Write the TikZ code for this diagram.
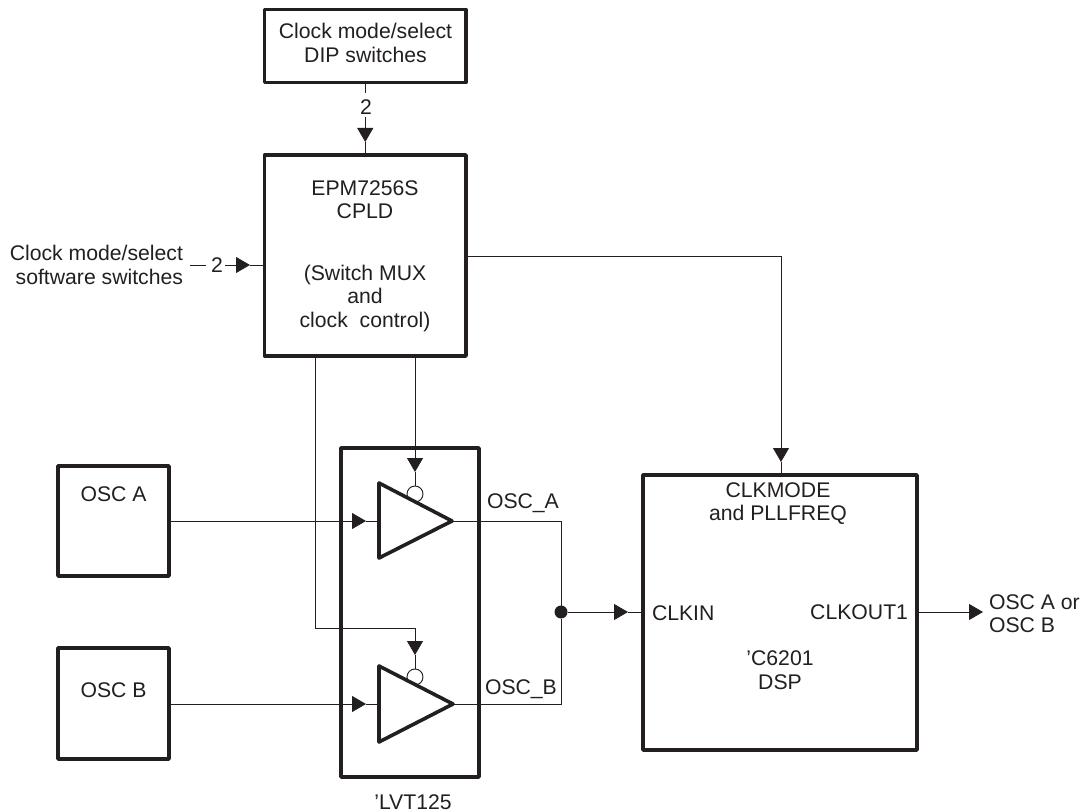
\documentclass[tikz,border=0pt]{standalone}
\usepackage{fontspec}
\setmainfont{Liberation Sans}
\usetikzlibrary{arrows.meta}
\definecolor{ink}{HTML}{231F20}
\tikzset{
  x=0.75pt,y=-0.75pt,
  boxsize/.style 2 args={minimum width=#1*0.75pt,minimum height=#2*0.75pt},
  block/.style={draw=ink,line width=2.7pt,line join=round,fill=white,inner sep=0pt,outer sep=0pt},
  wire/.style={draw=ink,line width=0.6pt},
  arrowed/.style={wire,-{Triangle[length=10.5pt,width=12pt]}},
  amp/.style={draw=ink,line width=2.7pt,line join=round,fill=white},
  bubble/.style={circle,draw=ink,line width=0.7pt,fill=white,minimum size=16*0.75pt,inner sep=0pt,outer sep=0pt},
  dot/.style={circle,fill=ink,minimum size=13*0.75pt,inner sep=0pt,outer sep=0pt},
  txt/.style={font=\fontsize{15.9pt}{17.6pt}\selectfont,text=ink,inner sep=0pt,outer sep=0pt,align=center},
  txtl/.style={txt,align=left},
  txtr/.style={txt,align=right}
}
\begin{document}
\begin{tikzpicture}
\useasboundingbox (0,0) rectangle (1087,812);
% blocks
\node[block,boxsize={201.5}{73}] (dip) at (365.25,46) {};
\node[block,boxsize={201.5}{201}] (cpld) at (365.25,255.5) {};
\node[block,boxsize={138}{329}] (lvt) at (410,612.5) {};
\node[block,boxsize={111}{110}] (osca) at (113.5,521) {};
\node[block,boxsize={111}{111}] (oscb) at (113.5,703.5) {};
\node[block,boxsize={274}{275}] (dsp) at (780,612.5) {};
% texts
\node[txt] (tdip) at (365.5,43) {Clock mode/select\\DIP switches};
\node[txt] (t2a) at (366,107) {2};
\node[txt] (t2b) at (217,265.5) {2};
\node[txt] (tepm) at (365,199.5) {EPM7256S\\CPLD};
\node[txt] (tmux) at (365,298.5) {(Switch MUX\\and\\clock\ \ control)};
\node[txtr,anchor=east] (tsoft) at (183,265) {Clock mode/select\\software switches};
\node[txt] (tosca) at (113.5,494) {OSC A};
\node[txt] (toscb) at (113.5,690) {OSC B};
\node[txtl,anchor=base west] (lbla) at (487,508) {OSC\_A};
\node[txtl,anchor=base west] (lblb) at (485,694) {OSC\_B};
\node[txt] (tlvt) at (413,802) {’LVT125};
\node[txt] (tclkm) at (778,503.5) {CLKMODE\\and PLLFREQ};
\node[txtl,anchor=west] (tclkin) at (652,613) {CLKIN};
\node[txtr,anchor=east] (tclkout) at (908,612) {CLKOUT1};
\node[txt] (tc62) at (780,670) {’C6201\\DSP};
\node[txtl,anchor=west] (tout) at (989,613.5) {OSC A or\\OSC B};
% coordinates
\coordinate (a1) at (379,483); \coordinate (a2) at (452,521); \coordinate (a3) at (379,558);
\coordinate (b1) at (379,666); \coordinate (b2) at (453,704); \coordinate (b3) at (379,742);
\coordinate (ain) at (379,521); \coordinate (bin) at (379,704);
\coordinate (atip) at (366,521); \coordinate (btip) at (366,704);
\coordinate (oa) at (169,521); \coordinate (ob) at (169,704);
\node[bubble] (ba) at (415,494) {};
\node[bubble] (bb) at (415,677) {};
\node[dot] (junc) at (561,612) {};
% amplifiers
\draw[amp] (a1) -- (a2) -- (a3) -- cycle;
\draw[amp] (b1) -- (b2) -- (b3) -- cycle;
% DIP to CPLD
\coordinate (d1) at (365.25,93); \coordinate (d2) at (365.25,117); \coordinate (d3) at (365.25,142);
\draw[wire] (dip.south) -- (d1);
\draw[arrowed] (d2) -- (d3);
\draw[wire] (d3) -- (cpld.north);
% software switches
\coordinate (s1) at (190,265); \coordinate (s2) at (206,265); \coordinate (s3) at (225,265); \coordinate (s4) at (250,265); \coordinate (s5) at (264.5,265);
\draw[wire] (s1) -- (s2);
\draw[arrowed] (s3) -- (s4);
\draw[wire] (s4) -- (s5);
% CPLD to DSP
\coordinate (c1) at (466,256); \coordinate (c2) at (781,256); \coordinate (c3) at (781,462); \coordinate (c4) at (781,475);
\draw[arrowed] (c1) -- (c2) -- (c3);
\draw[wire] (c3) -- (c4);
% CPLD to enable A
\coordinate (e1) at (415,356); \coordinate (e2) at (415,472);
\draw[arrowed] (e1) -- (e2);
\draw[wire] (e2) -- (ba.north);
% CPLD to enable B
\coordinate (f1) at (315,356); \coordinate (f2) at (315,628); \coordinate (f3) at (415,628); \coordinate (f4) at (415,655);
\draw[arrowed] (f1) -- (f2) -- (f3) -- (f4);
\draw[wire] (f4) -- (bb.north);
% oscillators
\draw[arrowed] (oa) -- (atip);
\draw[wire] (atip) -- (ain);
\draw[arrowed] (ob) -- (btip);
\draw[wire] (btip) -- (bin);
% outputs
\coordinate (jt) at (561,521); \coordinate (jb) at (561,704);
\draw[wire] (a2) -- (jt) -- (junc);
\draw[wire] (b2) -- (jb) -- (junc);
\coordinate (k1) at (628,612); \coordinate (k2) at (643,612);
\draw[arrowed] (junc) -- (k1);
\draw[wire] (k1) -- (k2);
\coordinate (o1) at (917,612); \coordinate (o2) at (983,612);
\draw[arrowed] (o1) -- (o2);
\end{tikzpicture}
\end{document}
